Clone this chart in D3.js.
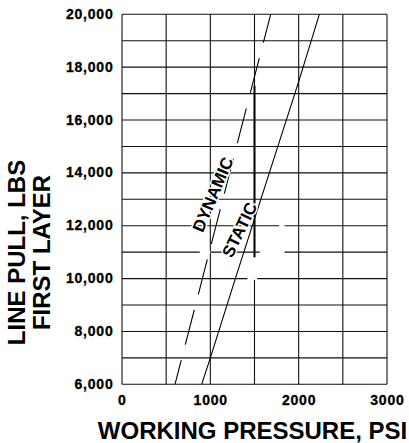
<!DOCTYPE html>
<html>
<head>
<meta charset="utf-8">
<script src="https://cdn.jsdelivr.net/npm/d3@7"></script>
<style>
  body { margin: 0; background: #fff; }
  text { font-family: "Liberation Sans", Arial, Helvetica, sans-serif; font-weight: bold; fill: #000; }
</style>
</head>
<body>
<div id="chart"></div>
<script>
// chart values
const lbsTicks = [6000, 8000, 10000, 12000, 14000, 16000, 18000, 20000];
const psiTicks = [0, 1000, 2000, 3000];
const staticPsi = [902, 1000, 1283, 2000, 2234];
const staticLbs = [6000, 7000, 10000, 17450, 20000];
const dynamicPsi = [600, 910, 1497, 1683];
const dynamicLbs = [6000, 10000, 17600, 20000];

const width = 409, height = 443;
const margin = {top: 14.3, right: 22, bottom: 58.7, left: 122};
const w = width - margin.left - margin.right;
const h = height - margin.top - margin.bottom;

let svg = d3.select("#chart")
    .append("svg")
    .attr("width", width)
    .attr("height", height);

let g = svg.append("g")
    .attr("transform", "translate(" + margin.left + "," + margin.top + ")");

let x = d3.scaleLinear().domain([0, 3000]).range([0, w]);
let y = d3.scaleLinear().domain([6000, 20000]).range([h, 0]);

// grid: every 500 psi and every 1000 lbs
g.selectAll("vgrid")
    .data(d3.range(0, 3001, 500))
    .enter()
    .append("line")
    .attr("x1", d => x(d)).attr("x2", d => x(d))
    .attr("y1", 0).attr("y2", h)
    .attr("stroke", "#111")
    .attr("stroke-width", 1.1);

g.selectAll("hgrid")
    .data(d3.range(6000, 20001, 1000))
    .enter()
    .append("line")
    .attr("x1", 0).attr("x2", w)
    .attr("y1", d => y(d)).attr("y2", d => y(d))
    .attr("stroke", "#111")
    .attr("stroke-width", 1.1);

// heavier piece of the 1500 line
g.append("line")
    .attr("x1", x(1500)).attr("x2", x(1500))
    .attr("y1", y(17300)).attr("y2", y(10800))
    .attr("stroke", "#000")
    .attr("stroke-width", 2);

// white gaps left in the grid
const gaps = [[1560, 1840, 10950, 11050], [1780, 1840, 11950, 12050], [1420, 1530, 9950, 10050],
              [1480, 1530, 10050, 10800], [880, 1000, 10950, 11050]];
g.selectAll("gap")
    .data(gaps)
    .enter()
    .append("rect")
    .attr("x", d => x(d[0])).attr("width", d => x(d[1]) - x(d[0]))
    .attr("y", d => y(d[3])).attr("height", d => y(d[2]) - y(d[3]))
    .attr("fill", "#fff");

let line = d3.line().x(d => x(d[0])).y(d => y(d[1]));

g.append("path")
    .datum(d3.zip(staticPsi, staticLbs))
    .attr("d", line)
    .attr("fill", "none")
    .attr("stroke", "#000")
    .attr("stroke-width", 1.1);

g.append("path")
    .datum(d3.zip(dynamicPsi, dynamicLbs))
    .attr("d", line)
    .attr("fill", "none")
    .attr("stroke", "#000")
    .attr("stroke-width", 1.1)
    .attr("stroke-dasharray", "36,16")
    .attr("stroke-dashoffset", 11);

// curve labels
function curveLabel(txt, px, lb, ang) {
    g.append("text")
        .text(txt)
        .attr("transform", `translate(${x(px)},${y(lb)})rotate(${ang})`)
        .attr("text-anchor", "middle")
        .style("font-size", "17px")
        .style("stroke", "#fff")
        .style("stroke-width", 3)
        .style("paint-order", "stroke");
}
curveLabel("DYNAMIC", 1090, 13100, -67);
curveLabel("STATIC", 1390, 11750, -64);

// tick labels
g.selectAll("ylab")
    .data(lbsTicks)
    .enter()
    .append("text")
    .text(d => d3.format(",")(d))
    .attr("x", -8.5)
    .attr("y", d => y(d))
    .attr("dy", "0.33em")
    .attr("text-anchor", "end")
    .style("font-size", "14px")
    .style("letter-spacing", "0.8px")
    .style("stroke", "#000")
    .style("stroke-width", 0.3);

g.selectAll("xlab")
    .data(psiTicks)
    .enter()
    .append("text")
    .text(d => d)
    .attr("x", d => x(d) + 0.4)
    .attr("y", h + 20.5)
    .attr("text-anchor", "middle")
    .style("font-size", "14px")
    .style("letter-spacing", "0.8px")
    .style("stroke", "#000")
    .style("stroke-width", 0.3);

// axis titles
svg.append("text")
    .text("WORKING PRESSURE, PSI")
    .attr("x", 252.5)
    .attr("y", 438.5)
    .attr("text-anchor", "middle")
    .style("font-size", "24px");

svg.append("text")
    .text("LINE PULL, LBS")
    .attr("transform", "translate(25,252.5)rotate(-90)")
    .attr("text-anchor", "middle")
    .style("font-size", "24px");

svg.append("text")
    .text("FIRST LAYER")
    .attr("transform", "translate(50,252.5)rotate(-90)")
    .attr("text-anchor", "middle")
    .style("font-size", "24px");
</script>
</body>
</html>
